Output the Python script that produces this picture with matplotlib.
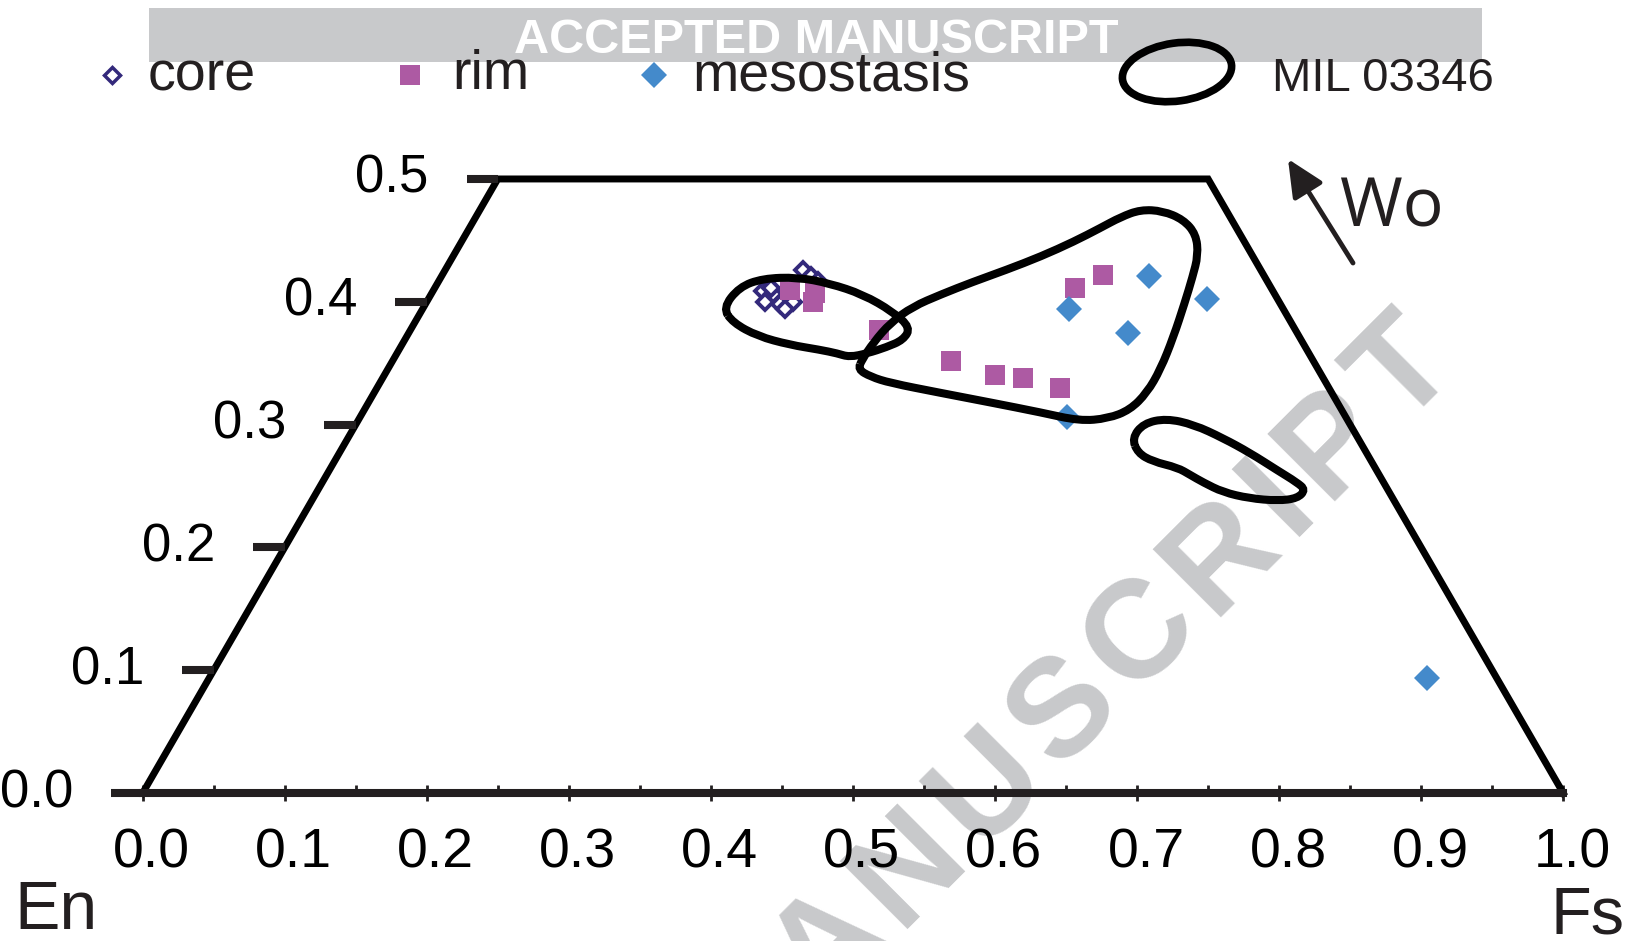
"""Pyroxene quadrilateral (En-Fs-Wo) with core, rim and mesostasis analyses"""
import numpy as np
import matplotlib
matplotlib.use('Agg')
import matplotlib.pyplot as plt
from matplotlib.patches import Rectangle, Ellipse, PathPatch
from matplotlib.path import Path
from matplotlib.font_manager import FontProperties
from matplotlib.ticker import FormatStrFormatter
from matplotlib.transforms import ScaledTranslation

plt.rcParams['font.family'] = ['Liberation Sans', 'DejaVu Sans']

# compositions as molar fractions Fs and Wo
core_fs = [0.232, 0.241, 0.238, 0.250, 0.258, 0.255, 0.252, 0.260, 0.267, 0.237]
core_wo = [0.409, 0.406, 0.400, 0.398, 0.400, 0.394, 0.426, 0.421, 0.417, 0.411]

rim_fs = [0.251, 0.270, 0.272, 0.330, 0.393, 0.430, 0.451, 0.481, 0.451, 0.465]
rim_wo = [0.410, 0.407, 0.400, 0.377, 0.352, 0.340, 0.338, 0.330, 0.411, 0.422]

meso_fs = [0.455, 0.498, 0.548, 0.506, 0.498, 0.857]
meso_wo = [0.394, 0.421, 0.402, 0.375, 0.306, 0.094]

# MIL 03346 fields (outlines traced in Fs / Wo)
mil_a_fs = [0.211, 0.214, 0.227, 0.251, 0.276, 0.304, 0.332, 0.351, 0.351, 0.342,
            0.331, 0.320, 0.310, 0.296, 0.273, 0.247, 0.224]
mil_a_wo = [0.395, 0.412, 0.419, 0.420, 0.415, 0.406, 0.392, 0.379, 0.369, 0.363,
            0.358, 0.355, 0.358, 0.361, 0.365, 0.372, 0.383]
mil_b_fs = [0.330, 0.331, 0.335, 0.344, 0.359, 0.376, 0.395, 0.414, 0.431, 0.444,
            0.454, 0.465, 0.481, 0.499, 0.514, 0.524, 0.529, 0.534, 0.540, 0.544,
            0.544, 0.539, 0.527, 0.508, 0.477, 0.438, 0.398, 0.359, 0.343, 0.331]
mil_b_wo = [0.353, 0.367, 0.383, 0.396, 0.406, 0.416, 0.426, 0.437, 0.449, 0.460,
            0.469, 0.475, 0.474, 0.467, 0.455, 0.438, 0.420, 0.399, 0.371, 0.345,
            0.326, 0.312, 0.305, 0.303, 0.310, 0.318, 0.326, 0.334, 0.339, 0.345]
mil_c_fs = [0.552, 0.554, 0.568, 0.590, 0.616, 0.641, 0.667, 0.686, 0.695, 0.693,
            0.680, 0.659, 0.638, 0.620, 0.608, 0.596, 0.576, 0.562]
mil_c_wo = [0.289, 0.301, 0.305, 0.300, 0.289, 0.277, 0.263, 0.253, 0.247, 0.240,
            0.238, 0.240, 0.245, 0.253, 0.259, 0.265, 0.270, 0.277]

fs_ticks = [0.0, 0.1, 0.2, 0.3, 0.4, 0.5, 0.6, 0.7, 0.8, 0.9, 1.0]
wo_ticks = [0.0, 0.1, 0.2, 0.3, 0.4, 0.5]

CORE = '#33297b'
RIM = '#ad5aa3'
MESO = '#448acb'
AXIS = '#231f20'
WM_GRAY = '#c8c9cb'


def tern(fs, wo):
    """horizontal position in the quadrilateral"""
    return np.asarray(fs) + np.asarray(wo) / 2


def smooth_loop(x, y):
    """closed curve through the traced outline (quadratic bezier pieces)"""
    pts = np.column_stack([x, y])
    mids = (pts + np.roll(pts, -1, axis=0)) / 2
    verts = [mids[-1]]
    codes = [Path.MOVETO]
    for p, m in zip(pts, mids):
        verts += [p, m]
        codes += [Path.CURVE3, Path.CURVE3]
    return Path(verts, codes)


W, H = 1632, 941
fig = plt.figure(figsize=(W / 100, H / 100), dpi=100)

# pixel layer underneath: watermark, legend, axis names
bg = fig.add_axes([0, 0, 1, 1], zorder=0)
bg.set_xlim(0, W)
bg.set_ylim(H, 0)
bg.axis('off')

ax = fig.add_axes([0, 0, 1, 1], zorder=1)
ax.patch.set_visible(False)
ax.set_xlim(-0.1004, 1.0484)
ax.set_ylim(-0.1204, 0.6457)

# diagonal watermark, letter by letter
wm_text = 'ACCEPTED MANUSCRIPT'
wm_prop = FontProperties(family='Liberation Sans', weight='bold', size=100)
renderer = fig.canvas.get_renderer()
widths = []
for ch in wm_text:
    if ch == ' ':
        widths.append(40)
    else:
        widths.append(renderer.get_text_width_height_descent(ch, wm_prop, ismath=False)[0])
TRACK = 12
pos = [widths[0] / 2]
for i in range(1, len(widths)):
    pos.append(pos[-1] + widths[i - 1] / 2 + TRACK + widths[i] / 2)
ANG = 45
for ch, p in zip(wm_text, pos):
    d = pos[-1] - p
    cx = 1405 - d * np.cos(np.deg2rad(ANG))
    cy = 372 + d * np.sin(np.deg2rad(ANG))
    if cy > H + 70:
        continue
    bg.text(cx, cy, ch, rotation=ANG, rotation_mode='anchor', ha='center', va='center',
            color=WM_GRAY, fontproperties=wm_prop, zorder=1)

# banner on top
bg.add_patch(Rectangle((149, 8), 1333, 54, color=WM_GRAY, lw=0, zorder=1))
bg.text(816, 53, 'ACCEPTED MANUSCRIPT', color='white', ha='center', va='baseline',
        weight='bold', size=35, zorder=2)

# legend
bg.plot(112, 75, 'D', ms=8, mfc='white', mec=CORE, mew=2.5, zorder=3)
bg.text(148, 90, 'core', size=40, va='baseline', color=AXIS, zorder=3)
bg.plot(410, 75, 's', ms=14, color=RIM, mew=0, zorder=3)
bg.text(452, 89, 'rim', size=40, va='baseline', color=AXIS, zorder=3)
bg.plot(654, 75, 'D', ms=13, color=MESO, mew=0, zorder=3)
bg.text(692, 90, 'mesostasis', size=40, va='baseline', color=AXIS, zorder=3)
bg.add_patch(Ellipse((1177, 72), 110, 58, angle=-8, fill=False, lw=5.5, ec='black', zorder=3))
bg.text(1272, 91, 'MIL 03346', size=34, va='baseline', color=AXIS, zorder=3)

# end-member names and Wo arrow
bg.text(14, 929, 'En', size=49, va='baseline', color=AXIS)
bg.text(1624, 934, 'Fs', size=48, ha='right', va='baseline', color=AXIS)
bg.text(1340, 226, 'Wo', size=49, family=['Open Sans', 'Liberation Sans'],
        va='baseline', color=AXIS)
bg.annotate('', xy=(1288, 159), xytext=(1353, 263),
            arrowprops=dict(arrowstyle='-|>,head_length=0.75,head_width=0.35',
                            lw=3.5, color=AXIS, mutation_scale=30,
                            shrinkA=0, shrinkB=0))

# quadrilateral frame
wo_max = wo_ticks[-1]
ax.plot([0, wo_max / 2, 1 - wo_max / 2, 1], [0, wo_max, wo_max, 0],
        color='black', lw=5, solid_joinstyle='miter', zorder=2)

# bottom Fs axis
for s in ['top', 'left', 'right']:
    ax.spines[s].set_visible(False)
ax.spines['bottom'].set_position(('data', 0))
ax.spines['bottom'].set_bounds(0, 1)
ax.spines['bottom'].set_linewidth(5.8)
ax.spines['bottom'].set_color(AXIS)
ax.set_xticks(fs_ticks)
ax.set_xticks(np.arange(0.05, 1.0, 0.1), minor=True)
ax.xaxis.set_major_formatter(FormatStrFormatter('%.1f'))
ax.tick_params(axis='x', which='major', direction='inout', length=11, width=2,
               color=AXIS, pad=19, labelsize=40)
ax.tick_params(axis='x', which='minor', direction='in', length=6, width=2, color=AXIS)
ax.set_yticks([])
# labels sit a little right of their ticks in the original
shift = ScaledTranslation(0.09, 0, fig.dpi_scale_trans)
for lab in ax.get_xticklabels():
    lab.set_transform(lab.get_transform() + shift)

# Wo ticks along the En-Wo side
for w in wo_ticks:
    xa = tern(0, w)
    ax.plot([xa - 0.022, xa], [w, w], color=AXIS, lw=5.8, solid_capstyle='butt', zorder=2)
    ax.text(xa - 0.049, w, f'{w:.1f}', ha='right', va='center', size=38)

# analyses
ax.plot(tern(core_fs, core_wo), core_wo, 'D', ms=8.5, mfc='white', mec=CORE, mew=2.8,
        ls='none', zorder=3)
ax.plot(tern(rim_fs, rim_wo), rim_wo, 's', ms=14, color=RIM, mew=0, ls='none', zorder=4)
ax.plot(tern(meso_fs, meso_wo), meso_wo, 'D', ms=13, color=MESO, mew=0, ls='none', zorder=5)

# MIL 03346 fields
for f, w in [(mil_a_fs, mil_a_wo), (mil_b_fs, mil_b_wo), (mil_c_fs, mil_c_wo)]:
    ax.add_patch(PathPatch(smooth_loop(tern(f, w), w), fill=False, edgecolor='black',
                           linewidth=5.8, zorder=6))

fig.savefig('out.png', dpi=100)
